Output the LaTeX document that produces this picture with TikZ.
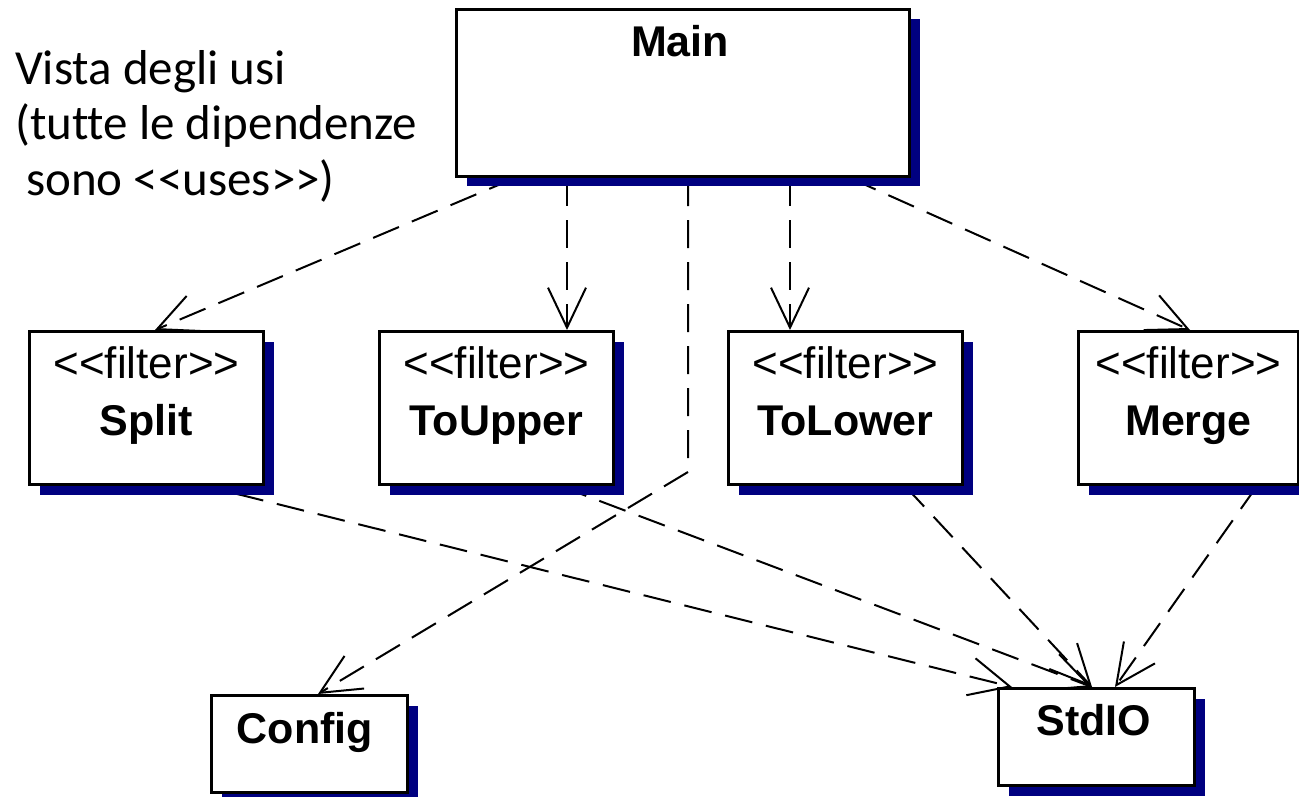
\documentclass[tikz,border=0pt]{standalone}
\usepackage{fontspec}
\setmainfont{Liberation Sans}
\newfontfamily\titlefont[Ligatures={NoCommon}]{Carlito}
\usetikzlibrary{arrows.meta,shadows,calc}
\definecolor{shadowblue}{RGB}{0,0,128}
\pgfdeclarelayer{bg}
\pgfsetlayers{bg,main}
\tikzset{
  umlbox/.style={draw=black, fill=white, line width=3pt, inner sep=0pt, anchor=north west,
    drop shadow={shadow xshift=10pt, shadow yshift=-10pt, fill=shadowblue, opacity=1}},
  filterbox/.style={umlbox, minimum width=234pt, minimum height=153pt},
  smallbox/.style={umlbox, minimum width=196pt, minimum height=97pt},
  nametext/.style={anchor=base, inner sep=0pt, font=\fontsize{43pt}{48pt}\selectfont\bfseries},
  stereo/.style={anchor=base, inner sep=0pt, font=\fontsize{44pt}{48pt}\selectfont},
  titletext/.style={anchor=base west, inner sep=0pt, font=\titlefont\fontsize{49pt}{55pt}\selectfont},
  uses/.style={line width=2pt, dash pattern=on 28pt off 14pt, -{Straight Barb[length=40pt,width=38pt,line width=2pt]}}
}
\begin{document}
\begin{tikzpicture}[x=1pt,y=-1pt]
\useasboundingbox (0,0) rectangle (1299,797);

% title
\node[titletext] (t1) at (15,85) {Vista degli usi};
\node[titletext] (t2) at (15,140) {(tutte le dipendenze};
\node[titletext] (t3) at (26,196) {sono <{}<uses>{}>)};

% boxes
\node[umlbox, minimum width=453pt, minimum height=167pt] (main) at (455,8) {};
\node[nametext] (mainlbl) at (680,57) {Main};

\node[filterbox] (split) at (28,330) {};
\node[filterbox] (toupper) at (378,330) {};
\node[filterbox] (tolower) at (727,330) {};
\node[filterbox, minimum width=220pt] (merge) at (1077,330) {};

\foreach \b/\t in {split/Split, toupper/ToUpper, tolower/ToLower, merge/Merge}{
  \node[stereo] (\b st) at ($(\b.north)+(0,48)$) {<{}<filter>{}>};
  \node[nametext] (\b lbl) at ($(\b.north)+(0,105)$) {\t};
}

\node[smallbox] (config) at (210,694) {};
\node[nametext] (configlbl) at (305,743) {Config};
\node[smallbox] (stdio) at (997,687) {};
\node[nametext] (stdiolbl) at (1094,735) {StdIO};

\coordinate (bend) at (688,472);

\begin{pgfonlayer}{bg}
\draw[uses] ([xshift=60pt]main.south west) -- ([xshift=127pt]split.north west);
\draw[uses] ([xshift=112pt]main.south west) -- ([xshift=189pt]toupper.north west);
\draw[uses] ([xshift=233pt]main.south west) -- (bend) -- ([xshift=108pt]config.north west);
\draw[uses] ([xshift=335pt]main.south west) -- ([xshift=63pt]tolower.north west);
\draw[uses] ([xshift=395pt]main.south west) -- ([xshift=113pt]merge.north west);

\draw[uses, dash phase=10pt] ([xshift=177pt]split.south west) -- ([xshift=15pt]stdio.north west);
\draw[uses] ([xshift=182pt]toupper.south west) -- ([xshift=95pt]stdio.north west);
\draw[uses] ([xshift=178pt]tolower.south west) -- ([xshift=95pt]stdio.north west);
\draw[uses] ([xshift=180pt]merge.south west) -- ([xshift=118pt]stdio.north west);
\end{pgfonlayer}
\end{tikzpicture}
\end{document}
